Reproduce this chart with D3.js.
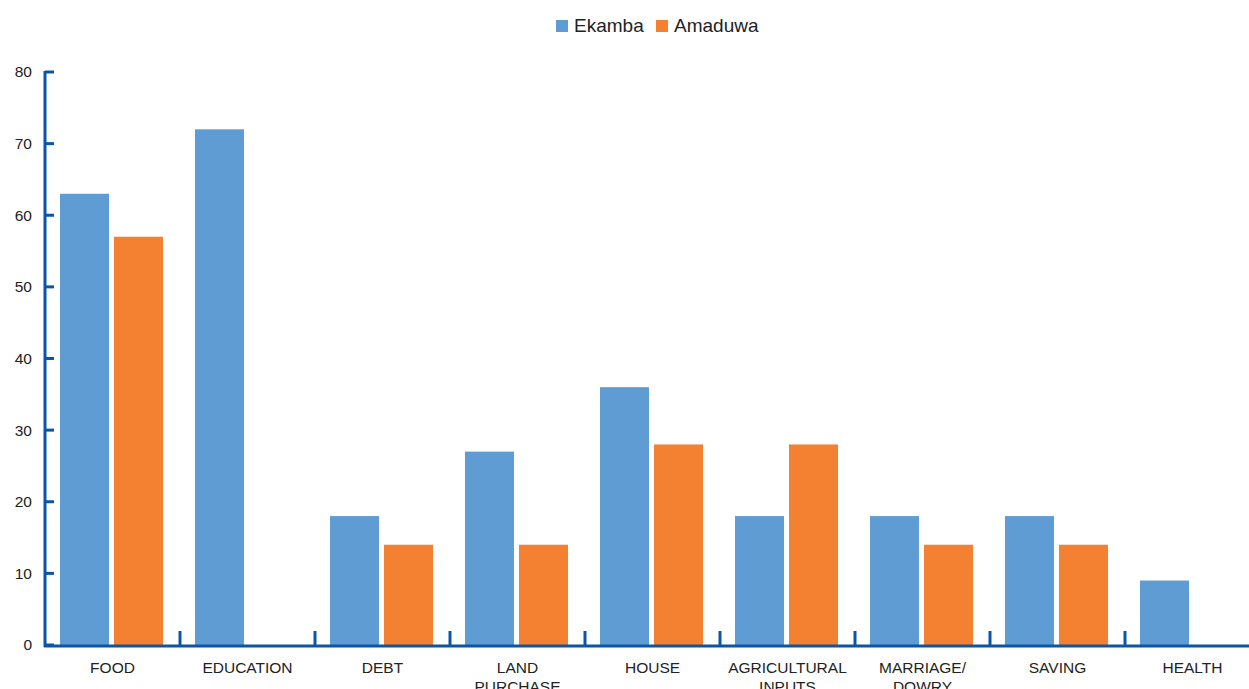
<!DOCTYPE html>
<html>
<head>
<meta charset="utf-8">
<script src="https://cdn.jsdelivr.net/npm/d3@7"></script>
<style>
body { margin: 0; background: #fff; }
svg { display: block; font-family: "Liberation Sans", Arial, Helvetica, sans-serif; }
</style>
</head>
<body>
<div id="chart"></div>
<script>
const categories = ["FOOD", "EDUCATION", "DEBT", "LAND PURCHASE", "HOUSE", "AGRICULTURAL INPUTS", "MARRIAGE/ DOWRY", "SAVING", "HEALTH"];
const labelLines = [["FOOD"], ["EDUCATION"], ["DEBT"], ["LAND", "PURCHASE"], ["HOUSE"], ["AGRICULTURAL", "INPUTS"], ["MARRIAGE/", "DOWRY"], ["SAVING"], ["HEALTH"]];
const series = ["Ekamba", "Amaduwa"];
const ekamba = [63, 72, 18, 27, 36, 18, 18, 18, 9];
const amaduwa = [57, 0, 14, 14, 28, 28, 14, 14, 0];
const yTicks = [0, 10, 20, 30, 40, 50, 60, 70, 80];
const colors = ["#5f9cd3", "#f48132"];

const width = 1249;
const height = 689;
const axisColor = "#0a56a5";

const svg = d3.select("#chart")
    .append("svg")
    .attr("width", width)
    .attr("height", height);

// Scales
const x = d3.scaleBand()
    .domain(categories)
    .range([45, 45 + 135 * categories.length]);

const x1 = d3.scaleBand()
    .domain(series)
    .range([15, 118])
    .paddingInner(0.0926);

const y = d3.scaleLinear()
    .domain([0, 80])
    .range([645, 72]);

const data = categories.map((c, i) => ({ cat: c, values: [ekamba[i], amaduwa[i]] }));

// Bars
const groups = svg.selectAll("g.cat")
    .data(data)
    .enter()
    .append("g")
    .attr("class", "cat")
    .attr("transform", d => `translate(${x(d.cat)},0)`);

groups.selectAll("rect")
    .data(d => d.values.map((v, j) => ({ s: series[j], v: v, j: j })))
    .enter()
    .append("rect")
    .attr("x", d => x1(d.s))
    .attr("width", x1.bandwidth())
    .attr("y", d => y(d.v))
    .attr("height", d => y(0) - y(d.v))
    .attr("fill", d => colors[d.j]);

// Y axis
const yAxis = svg.append("g");
yAxis.append("line")
    .attr("x1", 45).attr("x2", 45)
    .attr("y1", y(80) - 1).attr("y2", y(0) + 2)
    .attr("stroke", axisColor).attr("stroke-width", 3);
yAxis.selectAll("line.tick")
    .data(yTicks)
    .enter()
    .append("line")
    .attr("class", "tick")
    .attr("x1", 45).attr("x2", 54)
    .attr("y1", d => y(d)).attr("y2", d => y(d))
    .attr("stroke", axisColor).attr("stroke-width", 3);
yAxis.selectAll("text")
    .data(yTicks)
    .enter()
    .append("text")
    .attr("x", 32)
    .attr("y", d => y(d))
    .attr("dy", "0.35em")
    .attr("text-anchor", "end")
    .attr("font-size", 15.5)
    .attr("fill", "#222")
    .text(d => d);

// X axis
const xAxis = svg.append("g");
xAxis.append("line")
    .attr("x1", 44).attr("x2", width)
    .attr("y1", y(0) + 1).attr("y2", y(0) + 1)
    .attr("stroke", axisColor).attr("stroke-width", 3);
xAxis.selectAll("line.tick")
    .data(categories.slice(1))
    .enter()
    .append("line")
    .attr("class", "tick")
    .attr("x1", d => x(d)).attr("x2", d => x(d))
    .attr("y1", y(0) - 14).attr("y2", y(0))
    .attr("stroke", axisColor).attr("stroke-width", 3);

const xLabels = xAxis.selectAll("text")
    .data(categories)
    .enter()
    .append("text")
    .attr("x", d => x(d) + x.bandwidth() / 2)
    .attr("y", 673)
    .attr("text-anchor", "middle")
    .attr("font-size", 15.5)
    .attr("fill", "#222");
xLabels.selectAll("tspan")
    .data((d, i) => labelLines[i])
    .enter()
    .append("tspan")
    .attr("x", function() { return d3.select(this.parentNode).attr("x"); })
    .attr("dy", (d, i) => i === 0 ? 0 : 19)
    .text(d => d);

// Legend
const legend = svg.append("g");
const legendX = [556, 656];
series.forEach((s, i) => {
    legend.append("rect")
        .attr("x", legendX[i]).attr("y", 20)
        .attr("width", 12).attr("height", 12)
        .attr("fill", colors[i]);
    legend.append("text")
        .attr("x", legendX[i] + 18).attr("y", 32)
        .attr("font-size", 19)
        .attr("fill", "#222")
        .text(s);
});
</script>
</body>
</html>
